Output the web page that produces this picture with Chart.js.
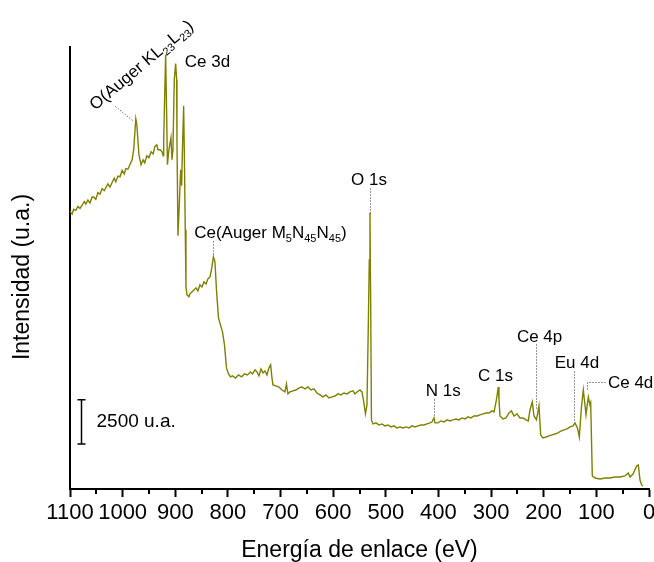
<!DOCTYPE html>
<html lang="es">
<head>
<meta charset="utf-8">
<title>XPS</title>
<script src="https://cdn.jsdelivr.net/npm/chart.js@4"></script>
<style>
  body { margin: 0; background: #fff; }
  canvas { display: block; }
</style>
</head>
<body>
<canvas id="grafico" width="654" height="562"></canvas>
<script>
const FUENTE = '"Liberation Sans", Arial, sans-serif';

// energía de enlace (eV)
const energias = [
  1100, 1096, 1093, 1089, 1085, 1081, 1077, 1073, 1070, 1066, 1062, 1058, 1054, 1051, 1047, 1043,
  1039, 1035, 1032, 1028, 1024, 1020, 1016, 1013, 1009, 1005, 1001, 997, 994, 990, 986, 982,
  979, 975, 973, 969, 965, 961, 958, 954, 950, 946, 942, 939, 935, 933, 929, 925, 923, 922,
  918.3, 916.2, 914.9, 912.1, 908.2, 906.3, 904.4, 901.9, 899.3, 897.4, 896.8, 894.9, 892, 889.8,
  887.9, 886.4, 884.1, 882.6, 881, 879.7, 877.8, 874, 872.1, 868.3, 864.5, 860.7, 856.9, 853.1,
  849.3, 845.5, 841.7, 837.9, 834.1, 831.3, 827.5, 824.6, 821.7, 817.9, 814.1, 810.3, 806.5,
  802.7, 798.9, 795.1, 791.3, 785.6, 779.9, 774.2, 768.5, 762.8, 757.1, 753.3, 748.6, 744.8,
  741, 737.2, 733.4, 729.6, 725.8, 722, 718.8, 716.3, 714.4, 708.7, 703, 697.3, 691.6, 688.8,
  685.9, 682.1, 676.4, 670.7, 665, 659.3, 653.6, 647.9, 642.2, 636.5, 630.8, 625.1, 619.4,
  613.7, 608, 602.3, 596.6, 590.9, 585.2, 579.5, 573.8, 568.1, 562.4, 558.6, 554.8, 549.1,
  545.3, 542.5, 538.7, 535.8, 533.3, 531.4, 530.1, 528.8, 527.3, 524.4, 518.7, 513, 507.3,
  501.6, 495.9, 490.2, 484.5, 478.8, 473.1, 467.4, 461.7, 456, 450.3, 444.6, 438.9, 433.2,
  427.5, 421.8, 416.1, 412.3, 408.5, 406.6, 400.9, 395.2, 389.5, 383.8, 378.1, 372.4, 366.7,
  361, 355.3, 349.6, 343.9, 338.2, 332.5, 326.8, 321.1, 315.4, 309.7, 304, 298.3, 294.5,
  290.7, 288.8, 286.3, 285, 283.1, 277.4, 271.7, 266, 261.3, 256.5, 250.8, 245.1, 239.4,
  233.7, 229.3, 226.1, 221.7, 218.5, 213.8, 209, 205.8, 201.4, 195.7, 190, 184.3, 178.6,
  172.9, 167.2, 161.5, 155.8, 150.1, 144.4, 140.6, 135.9, 132.4, 128.3, 124.8, 121.6, 119.7,
  115.3, 112.1, 110.8, 107.7, 102.6, 93.1, 83.6, 74.1, 64.6, 55.1, 45.6, 39.3, 36.1, 30.4,
  23.4, 20.3, 17.1, 13.9, 11.4
];

// intensidad (u.a.)
const intensidades = [
  15700, 15550, 15820, 15760, 15980, 15870, 16050, 16260, 16120, 16340, 16180, 16520, 16490, 16380, 16760, 16680,
  16990, 16880, 17040, 17260, 17080, 17340, 17580, 17380, 17700, 17660, 18020, 17820, 18120, 18090, 18350, 18620,
  19190, 20940, 20600, 18900, 18340, 18620, 18450, 18850, 18740, 19070, 18960, 19360, 19470, 19190, 19190, 19070, 18850, 19750,
  24560, 20890, 18340, 19190, 19870, 18620, 19190, 23150, 24060, 23150, 19750, 14320, 16360, 18060,
  17150, 19190, 21680, 18620, 14660, 11430, 10980, 10870, 11040, 11150, 11260, 11380, 11210, 11550,
  11430, 11720, 11600, 11890, 12000, 12400, 13130, 12850, 11260, 9680, 9280, 8890, 8150,
  6850, 6510, 6340, 6400, 6280, 6450, 6340, 6510, 6450, 6620, 6510, 6740, 6620,
  6400, 6790, 6570, 6680, 6450, 6850, 7020, 6280, 5890, 5830, 5770, 5600, 5490, 5940,
  5380, 5490, 5550, 5600, 5720, 5770, 5660, 5770, 5600, 5660, 5430, 5320, 5210,
  5320, 5150, 5210, 5260, 5380, 5320, 5430, 5380, 5490, 5550, 5380, 5490, 5600,
  5490, 5040, 4250, 4750, 9170, 12960, 15620, 10700, 3910, 3680, 3740, 3620, 3680,
  3570, 3620, 3510, 3570, 3450, 3510, 3450, 3510, 3450, 3570, 3510, 3570, 3620,
  3620, 3680, 3740, 3790, 4020, 3740, 3740, 3850, 3790, 3910, 3850, 3910, 3960,
  3910, 4020, 3960, 4080, 4020, 4130, 4130, 4190, 4250, 4300, 4300, 4420, 4360,
  4920, 5260, 5770, 5040, 4130, 3960, 4020, 4300, 4420, 4130, 4250, 4020, 4020,
  3910, 3850, 4470, 4920, 4130, 3910, 4700, 3060, 2890, 2940, 3000, 3060, 3110,
  3170, 3280, 3340, 3400, 3510, 3570, 3740, 3450, 2940, 4640, 5600, 4750, 4190,
  5210, 4750, 4870, 740, 620, 570, 620, 620, 680, 680, 740, 910, 680, 850,
  1300, 1360, 510, 230, 170
];

const ticksEnergia = [0, 100, 200, 300, 400, 500, 600, 700, 800, 900, 1000, 1100];
const ticksMenores = [50, 150, 250, 350, 450, 550, 650, 750, 850, 950, 1050];
const tituloY = 'Intensidad (u.a.)';

// etiquetas de los picos: [texto, subíndice?]
const etiquetas = [
  { partes: [['O(Auger KL'], ['23', true], ['L'], ['23', true], [')']], e: 1052, i: 21400, ang: -40 },
  { partes: [['Ce 3d']], e: 882, i: 23890 },
  { partes: [['Ce(Auger M'], ['5', true], ['N'], ['45', true], ['N'], ['45', true], [')']], e: 864, i: 14210 },
  { partes: [['O 1s']], e: 566, i: 17210 },
  { partes: [['N 1s']], e: 424, i: 5260 },
  { partes: [['C 1s']], e: 325, i: 6130 },
  { partes: [['Ce 4p']], e: 251, i: 8340 },
  { partes: [['Eu 4d']], e: 179, i: 6850 },
  { partes: [['Ce 4d']], e: 78, i: 5720 }
];

// líneas punteadas entre etiqueta y pico
const guias = [
  [[1015, 21680], [982, 20890]],
  [[828, 14040], [828, 13300]],
  [[530, 17040], [530, 15620]],
  [[408.5, 5090], [408.5, 4080]],
  [[215, 8210], [215, 4470]],
  [[142, 6680], [142, 3810]],
  [[118, 5660], [118, 6070], [82, 6070]]
];

const barraEscala = { e: 1079, desde: 2547, valor: 2500, texto: '2500 u.a.' };

function textoRico(ctx, partes, x, y, ang) {
  ctx.save();
  ctx.translate(x, y);
  ctx.rotate((ang || 0) * Math.PI / 180);
  let cx = 0;
  partes.forEach(([t, sub]) => {
    ctx.font = (sub ? '11px ' : '17px ') + FUENTE;
    ctx.fillText(t, cx, sub ? 4 : 0);
    cx += ctx.measureText(t).width;
  });
  ctx.restore();
}

const anotaciones = {
  id: 'anotaciones',
  afterDraw(chart) {
    const { ctx, scales: { x, y }, chartArea } = chart;
    ctx.save();

    // título del eje y
    ctx.fillStyle = '#000';
    ctx.font = '23px ' + FUENTE;
    ctx.textAlign = 'center';
    ctx.textBaseline = 'middle';
    ctx.save();
    ctx.translate(23, (chartArea.top + chartArea.bottom) / 2 + 9);
    ctx.rotate(-Math.PI / 2);
    ctx.fillText(tituloY, 0, 0);
    ctx.restore();

    // ticks menores
    ctx.strokeStyle = '#000';
    ctx.lineWidth = 2;
    ticksMenores.forEach((v) => {
      const px = Math.round(x.getPixelForValue(v));
      ctx.beginPath();
      ctx.moveTo(px, chartArea.bottom);
      ctx.lineTo(px, chartArea.bottom + 5);
      ctx.stroke();
    });

    // guías punteadas
    ctx.strokeStyle = '#333';
    ctx.lineWidth = 1;
    ctx.setLineDash([1, 2]);
    guias.forEach((g) => {
      ctx.beginPath();
      g.forEach((p, k) => {
        const px = Math.round(x.getPixelForValue(p[0])) + 0.5;
        const py = Math.round(y.getPixelForValue(p[1])) + 0.5;
        if (k === 0) ctx.moveTo(px, py);
        else ctx.lineTo(px, py);
      });
      ctx.stroke();
    });
    ctx.setLineDash([]);

    // etiquetas
    ctx.textAlign = 'left';
    ctx.textBaseline = 'alphabetic';
    etiquetas.forEach((et) => {
      textoRico(ctx, et.partes, x.getPixelForValue(et.e), y.getPixelForValue(et.i), et.ang);
    });

    // barra de escala
    const bx = Math.round(x.getPixelForValue(barraEscala.e)) + 0.5;
    const y0 = y.getPixelForValue(barraEscala.desde);
    const y1 = y.getPixelForValue(barraEscala.desde + barraEscala.valor);
    ctx.strokeStyle = '#000';
    ctx.lineWidth = 1.5;
    ctx.beginPath();
    ctx.moveTo(bx, y0); ctx.lineTo(bx, y1);
    ctx.moveTo(bx - 4, y0); ctx.lineTo(bx + 4, y0);
    ctx.moveTo(bx - 4, y1); ctx.lineTo(bx + 4, y1);
    ctx.stroke();
    ctx.font = '19px ' + FUENTE;
    ctx.textBaseline = 'middle';
    ctx.fillText(barraEscala.texto, bx + 15, (y0 + y1) / 2);

    ctx.restore();
  }
};

Chart.defaults.font.family = FUENTE;
Chart.defaults.color = '#000';

new Chart(document.getElementById('grafico').getContext('2d'), {
  type: 'line',
  data: {
    datasets: [{
      data: energias.map((e, k) => ({ x: e, y: intensidades[k] })),
      borderColor: '#808000',
      borderWidth: 1.4,
      pointRadius: 0,
      tension: 0,
      fill: false
    }]
  },
  options: {
    responsive: false,
    animation: false,
    layout: { padding: { top: 47, right: 5, left: 0, bottom: 0 } },
    plugins: { legend: { display: false }, tooltip: { enabled: false } },
    scales: {
      x: {
        type: 'linear',
        reverse: true,
        min: 0,
        max: 1100,
        afterBuildTicks: (scale) => { scale.ticks = ticksEnergia.map((v) => ({ value: v })); },
        afterFit: (scale) => { scale.height = 73; scale.paddingLeft = 0; scale.paddingRight = 0; },
        ticks: {
          autoSkip: false,
          maxRotation: 0,
          padding: 3,
          font: { size: 22 },
          color: '#000',
          callback: (v) => String(v)
        },
        grid: { drawOnChartArea: false, drawTicks: true, tickLength: 8, tickWidth: 2, tickColor: '#000' },
        border: { display: true, color: '#000', width: 2 },
        title: {
          display: true,
          text: 'Energía de enlace (eV)',
          font: { size: 23, lineHeight: 1 },
          padding: { top: 0, bottom: 0 },
          color: '#000'
        }
      },
      y: {
        min: 0,
        max: 25000,
        afterFit: (scale) => { scale.width = 70; },
        ticks: { display: false },
        grid: { display: false },
        border: { display: true, color: '#000', width: 2 },
        title: { display: false }
      }
    }
  },
  plugins: [anotaciones]
});
</script>
</body>
</html>
